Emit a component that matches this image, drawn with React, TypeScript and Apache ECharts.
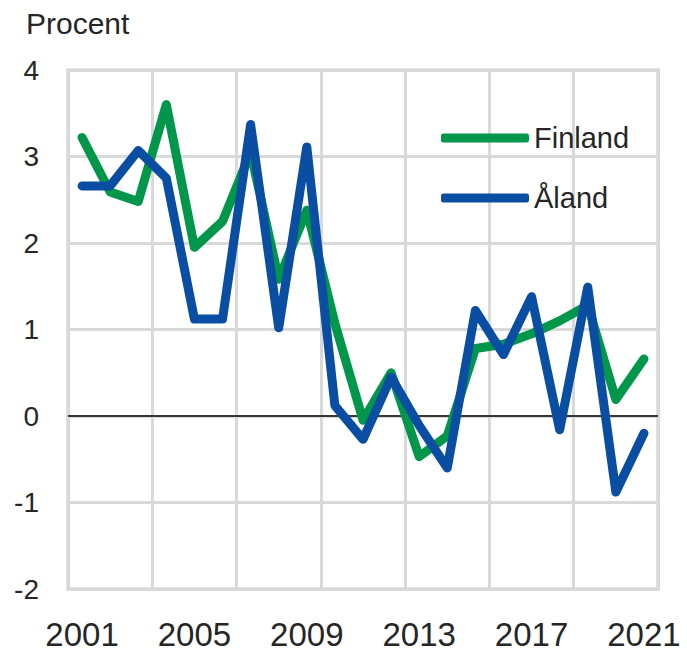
import React, { useEffect, useRef } from "react";
import * as echarts from "echarts";

const years = ["2001","2002","2003","2004","2005","2006","2007","2008","2009","2010","2011","2012","2013","2014","2015","2016","2017","2018","2019","2020","2021"];
const finland = [3.22, 2.59, 2.48, 3.6, 1.95, 2.25, 3.05, 1.58, 2.38, 1.07, -0.05, 0.5, -0.47, -0.23, 0.78, 0.83, 0.95, 1.1, 1.28, 0.19, 0.66];
const aland = [2.66, 2.66, 3.07, 2.75, 1.12, 1.12, 3.37, 1.02, 3.11, 0.12, -0.27, 0.45, -0.11, -0.6, 1.22, 0.71, 1.38, -0.16, 1.49, -0.88, -0.2];
const seriesNames = ["Finland", "Åland"];
const yTitle = "Procent";

const FONT = "Liberation Sans, Arial, sans-serif";

export default function App() {
  const ref = useRef<HTMLDivElement>(null);
  useEffect(() => {
    if (!ref.current) return;
    const chart = echarts.init(ref.current, null, { renderer: "svg" });
    chart.setOption({
      animation: false,
      textStyle: { fontFamily: FONT },
      grid: {
        left: 68,
        right: 29,
        top: 70,
        bottom: 63,
        show: true,
        borderColor: "#C6C6C6",
        borderWidth: 3,
        containLabel: false,
      },
      graphic: [
        {
          type: "text",
          left: 26,
          top: 8,
          style: { text: yTitle, fontSize: 30, fill: "#262626", fontFamily: FONT },
        },
      ],
      legend: {
        orient: "vertical",
        left: 436,
        top: 118,
        itemWidth: 88,
        itemHeight: 9,
        itemGap: 30,
        icon: "roundRect",
        textStyle: { fontSize: 29, color: "#262626", fontFamily: FONT, lineHeight: 30 },
        data: seriesNames,
      },
      xAxis: {
        type: "category",
        data: years,
        boundaryGap: true,
        axisLine: { show: false },
        axisTick: { show: false },
        axisLabel: {
          interval: 3,
          fontSize: 33,
          color: "#262626",
          margin: 29,
          fontFamily: FONT,
        },
        splitLine: {
          show: true,
          interval: 2,
          lineStyle: { color: "#D9D9D9", width: 3 },
        },
      },
      yAxis: {
        type: "value",
        min: -2,
        max: 4,
        interval: 1,
        axisLine: { show: false },
        axisTick: { show: false },
        axisLabel: { fontSize: 28, color: "#262626", margin: 29, fontFamily: FONT },
        splitLine: { show: true, lineStyle: { color: "#D9D9D9", width: 3 } },
      },
      series: [
        {
          name: seriesNames[0],
          type: "line",
          data: finland,
          symbol: "none",
          color: "#00974A",
          lineStyle: { width: 9, color: "#00974A", cap: "round", join: "round" },
          markLine: {
            silent: true,
            symbol: "none",
            label: { show: false },
            lineStyle: { color: "#000000", width: 1.5, type: "solid" },
            data: [{ yAxis: 0 }],
            z: 1,
          },
          z: 2,
        },
        {
          name: seriesNames[1],
          type: "line",
          data: aland,
          symbol: "none",
          color: "#0A4EA3",
          lineStyle: { width: 9, color: "#0A4EA3", cap: "round", join: "round" },
          z: 3,
        },
      ],
    });
    return () => chart.dispose();
  }, []);
  return (
    <div
      ref={ref}
      style={{ position: "fixed", left: 0, top: 0, width: 687, height: 652, background: "#fff" }}
    />
  );
}
